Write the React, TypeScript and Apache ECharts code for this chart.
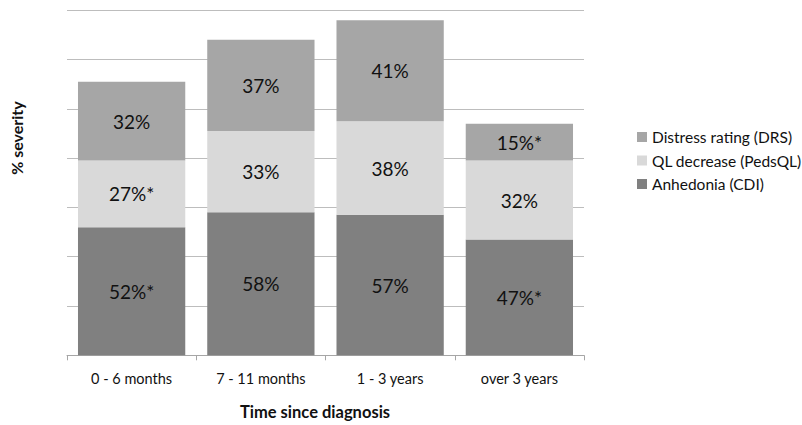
import React, { useEffect, useRef } from "react";
import * as echarts from "echarts";

const categories = ["0 - 6 months", "7 - 11 months", "1 - 3 years", "over 3 years"];
const anhedonia = [52, 58, 57, 47];
const qlDecrease = [27, 33, 38, 32];
const distress = [32, 37, 41, 15];
const anhedoniaSig = [true, false, false, true];
const qlDecreaseSig = [true, false, false, false];
const distressSig = [false, false, false, true];

const FONT = "Lato";

function labelFor(sig: boolean[]) {
  return (p: any) => `${p.value}%${sig[p.dataIndex] ? "*" : ""}`;
}

export default function App() {
  const ref = useRef<HTMLDivElement>(null);

  useEffect(() => {
    if (!ref.current) return;
    const chart = echarts.init(ref.current, undefined, { renderer: "svg" });
    const barLabel = (sig: boolean[]) => ({
      show: true,
      position: "inside" as const,
      color: "#111",
      fontFamily: FONT,
      fontSize: 19,
      formatter: labelFor(sig),
    });
    chart.setOption({
      animation: false,
      grid: { left: 67, right: 218, top: 10.3, bottom: 69.7 },
      xAxis: {
        type: "category",
        data: categories,
        axisLine: { lineStyle: { color: "#a6a6a6", width: 1 } },
        axisTick: { show: true, length: 5, lineStyle: { color: "#a6a6a6" } },
        axisLabel: { color: "#111", fontFamily: FONT, fontSize: 14.5, margin: 16 },
      },
      yAxis: {
        type: "value",
        min: 0,
        max: 140,
        interval: 20,
        axisLabel: { show: false },
        axisLine: { show: false },
        axisTick: { show: false },
        splitLine: { lineStyle: { color: "#bdbdbd", width: 1 } },
      },
      legend: {
        orient: "vertical",
        left: 637,
        top: 129,
        padding: 0,
        itemWidth: 10,
        itemHeight: 10,
        itemGap: 7.5,
        icon: "rect",
        data: ["Distress rating (DRS)", "QL decrease (PedsQL)", "Anhedonia (CDI)"],
        textStyle: { color: "#111", fontFamily: FONT, fontSize: 15.5 },
      },
      series: [
        {
          name: "Anhedonia (CDI)",
          type: "bar",
          stack: "s",
          data: anhedonia,
          barCategoryGap: "17%",
          itemStyle: { color: "#808080" },
          label: barLabel(anhedoniaSig),
        },
        {
          name: "QL decrease (PedsQL)",
          type: "bar",
          stack: "s",
          data: qlDecrease,
          itemStyle: { color: "#d9d9d9" },
          label: barLabel(qlDecreaseSig),
        },
        {
          name: "Distress rating (DRS)",
          type: "bar",
          stack: "s",
          data: distress,
          itemStyle: { color: "#a6a6a6" },
          label: barLabel(distressSig),
        },
      ],
      graphic: [
        {
          type: "text",
          x: 16.5,
          y: 138,
          rotation: Math.PI / 2,
          style: {
            text: "% severity",
            fill: "#111",
            font: `bold 16px ${FONT}`,
            align: "center",
            verticalAlign: "middle",
          },
        },
        {
          type: "text",
          x: 315,
          y: 412,
          style: {
            text: "Time since diagnosis",
            fill: "#111",
            font: `bold 16.5px ${FONT}`,
            align: "center",
            verticalAlign: "middle",
          },
        },
      ],
    });
    return () => chart.dispose();
  }, []);

  return (
    <div
      ref={ref}
      style={{ position: "absolute", left: 0, top: 0, width: 802, height: 425 }}
    />
  );
}
